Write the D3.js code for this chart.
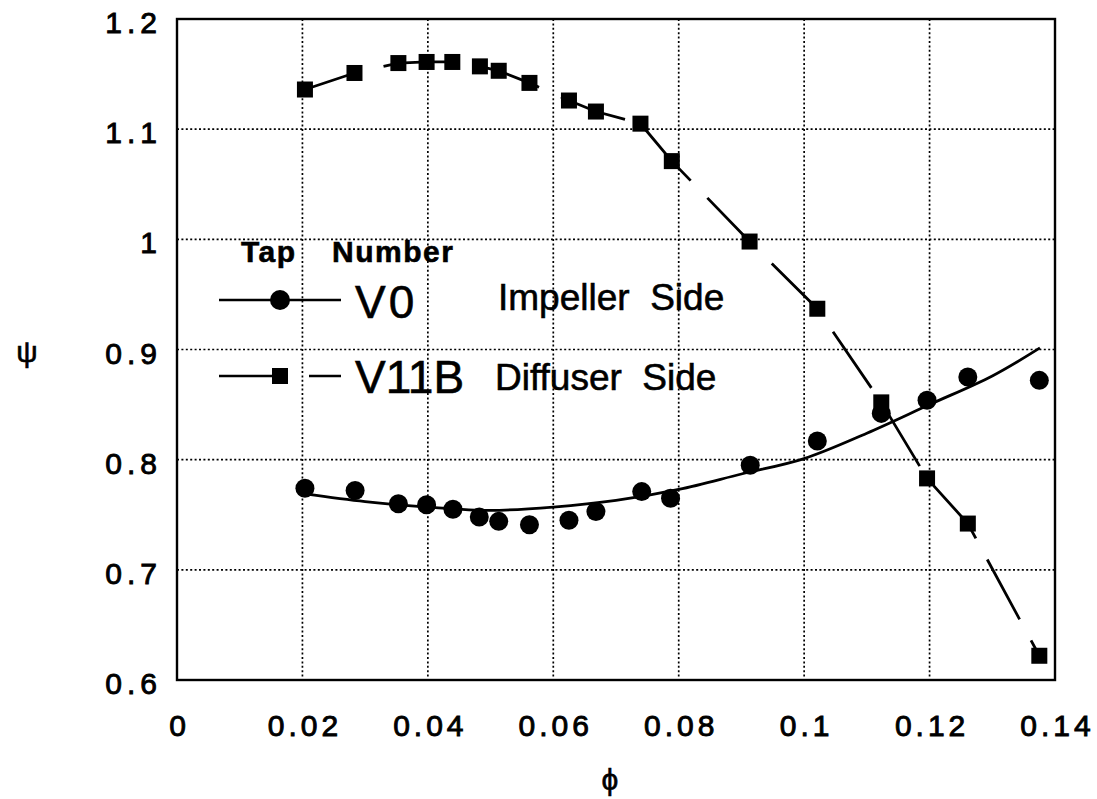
<!DOCTYPE html>
<html>
<head>
<meta charset="utf-8">
<script src="https://cdn.jsdelivr.net/npm/d3@7"></script>
<style>
body{margin:0;background:#fff;}
svg text{font-family:"Liberation Sans",Arial,sans-serif;fill:#000;stroke:#000;stroke-width:0.6px;}
</style>
</head>
<body>
<svg id="svg" width="1097" height="799"></svg>
<script>
// tap V0 (impeller side), circles
var phiV0=[0.0204,0.0284,0.0353,0.0398,0.0440,0.0482,0.0513,0.0562,0.0625,0.0668,0.0741,0.0787,0.0914,0.1021,0.1123,0.1196,0.1261,0.1375];
var psiV0=[0.774,0.772,0.760,0.759,0.755,0.748,0.744,0.741,0.745,0.753,0.771,0.765,0.795,0.817,0.842,0.854,0.875,0.872];
// curve fit drawn through the V0 points
var fitPhi=[0.0204,0.03,0.04,0.05,0.06,0.07,0.08,0.09,0.10,0.11,0.12,0.13,0.1376];
var fitPsi=[0.769,0.762,0.757,0.754,0.757,0.763,0.773,0.787,0.801,0.824,0.850,0.876,0.9015];
// tap V11B (diffuser side), squares
var phiV11B=[0.0204,0.0283,0.0353,0.0398,0.0439,0.0483,0.0513,0.0562,0.0625,0.0668,0.0739,0.0789,0.0913,0.1021,0.1123,0.1196,0.1261,0.1375];
var psiV11B=[1.136,1.151,1.160,1.161,1.161,1.157,1.153,1.142,1.126,1.116,1.105,1.071,0.998,0.937,0.852,0.783,0.742,0.622];

var xTicks=[0,0.02,0.04,0.06,0.08,0.1,0.12,0.14];
var yTicks=[0.6,0.7,0.8,0.9,1,1.1,1.2];

var mLeft=177,mTop=19,width=878,height=661;
var svg=d3.select("#svg").append("g")
        .attr("transform","translate("+mLeft+","+mTop+")");

var x=d3.scaleLinear().domain([0,0.14]).range([0,width]);
var y=d3.scaleLinear().domain([0.6,1.2]).range([height,0]);

// dotted grid
svg.selectAll(".vgrid").data(xTicks.slice(1,-1)).enter().append("line")
        .attr("x1",d=>x(d)).attr("x2",d=>x(d))
        .attr("y1",0).attr("y2",height)
        .style("stroke","#000").style("stroke-width","1.7").style("stroke-dasharray","2,2.4");
svg.selectAll(".hgrid").data(yTicks.slice(1,-1)).enter().append("line")
        .attr("y1",d=>y(d)).attr("y2",d=>y(d))
        .attr("x1",0).attr("x2",width)
        .style("stroke","#000").style("stroke-width","1.7").style("stroke-dasharray","2,2.4");

svg.append("rect")
        .attr("width",width).attr("height",height)
        .style("fill","none").style("stroke","#000").style("stroke-width","2.4");

// axes, labels only
var fmt=d=>String(+d.toFixed(2));
var xAxis=svg.append("g")
        .attr("transform","translate(0,"+height+")")
    .call(d3.axisBottom(x).tickValues(xTicks).tickSize(0).tickFormat(fmt));
xAxis.select(".domain").remove();
xAxis.selectAll("text")
        .attr("y",56).attr("dy",0).attr("dx",2)
        .style("font-size","30px").style("letter-spacing","4px")
        .style("font-family","'Liberation Sans',Arial,sans-serif")
        .style("stroke","#000").style("stroke-width","0.9px");

var yAxis=svg.append("g")
    .call(d3.axisLeft(y).tickValues(yTicks).tickSize(0).tickFormat(fmt));
yAxis.select(".domain").remove();
yAxis.selectAll("text")
        .attr("x",-15).attr("dy","0.45em")
        .style("font-size","30px").style("letter-spacing","5px")
        .style("font-family","'Liberation Sans',Arial,sans-serif")
        .style("stroke","#000").style("stroke-width","0.9px");

// V0 fit curve + circles
var fitData=fitPhi.map((p,i)=>[p,fitPsi[i]]);
svg.append("path")
        .datum(fitData)
        .attr("d",d3.line().x(d=>x(d[0])).y(d=>y(d[1])).curve(d3.curveCatmullRom))
        .style("fill","none").style("stroke","#000").style("stroke-width","2.8");

svg.selectAll(".dot").data(phiV0.map((p,i)=>[p,psiV0[i]])).enter().append("circle")
        .attr("cx",d=>x(d[0])).attr("cy",d=>y(d[1])).attr("r",9.5)
        .style("fill","#000");

// V11B dashed line + squares
var sqData=phiV11B.map((p,i)=>[p,psiV11B[i]]);
svg.append("path")
        .datum(sqData)
        .attr("d",d3.line().x(d=>x(d[0])).y(d=>y(d[1])))
        .style("fill","none").style("stroke","#000").style("stroke-width","2.8")
        .style("stroke-dasharray","68,24").style("stroke-dashoffset","10");

svg.selectAll(".sq").data(sqData).enter().append("rect")
        .attr("x",d=>x(d[0])-8).attr("y",d=>y(d[1])-8)
        .attr("width",16).attr("height",16)
        .style("fill","#000");

// legend
var lg=d3.select("#svg").append("g");
lg.append("text").attr("x",241).attr("y",262).text("Tap")
        .style("font-size","30px").style("font-weight","bold").style("letter-spacing","1.5px");
lg.append("text").attr("x",332).attr("y",262).text("Number")
        .style("font-size","30px").style("font-weight","bold").style("letter-spacing","1.5px");

lg.append("line").attr("x1",219).attr("x2",341).attr("y1",300).attr("y2",300)
        .style("stroke","#000").style("stroke-width","2.6");
lg.append("circle").attr("cx",280).attr("cy",300).attr("r",10).style("fill","#000");
lg.append("text").attr("x",355).attr("y",318).text("V0")
        .style("font-size","46px").style("letter-spacing","3px");
lg.append("text").attr("x",498).attr("y",310).text("Impeller  Side")
        .style("font-size","37px").style("white-space","pre");

lg.append("line").attr("x1",219).attr("x2",341).attr("y1",376).attr("y2",376)
        .style("stroke","#000").style("stroke-width","2.6").style("stroke-dasharray","69,21");
lg.append("rect").attr("x",272).attr("y",368).attr("width",16).attr("height",16).style("fill","#000");
lg.append("text").attr("x",355).attr("y",393).text("V11B")
        .style("font-size","46px");
lg.append("text").attr("x",495).attr("y",390).text("Diffuser  Side")
        .style("font-size","37px").style("white-space","pre");

// axis titles
d3.select("#svg").append("text").attr("x",27).attr("y",362).attr("text-anchor","middle")
        .text("ψ").style("font-size","30px");
d3.select("#svg").append("text").attr("x",610).attr("y",790).attr("text-anchor","middle")
        .text("ϕ").style("font-size","30px");
</script>
</body>
</html>
